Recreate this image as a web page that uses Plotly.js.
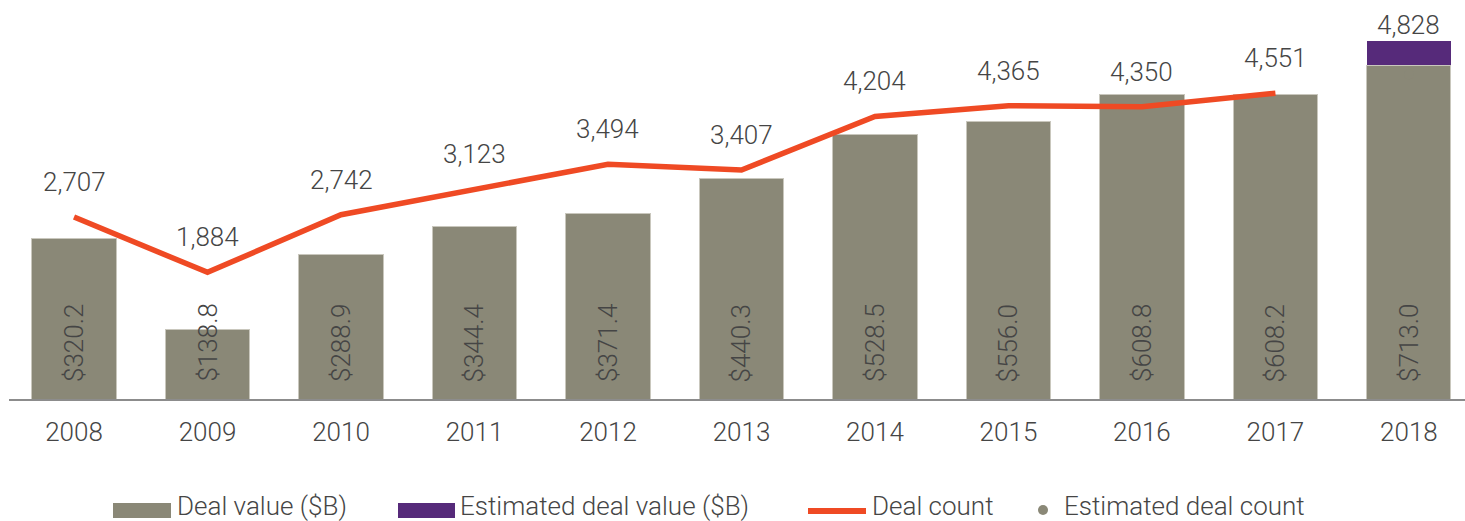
<!DOCTYPE html>
<html>
<head>
<meta charset="utf-8">
<script src="https://cdn.plot.ly/plotly-3.0.1.min.js"></script>
<style>html,body{margin:0;padding:0;background:#fff;}</style>
</head>
<body>
<div id="chart" style="width:1465px;height:521px;"></div>
<script>
// ---- Data ----
const years = ['2008','2009','2010','2011','2012','2013','2014','2015','2016','2017','2018'];
const dealValue = [320.2, 138.8, 288.9, 344.4, 371.4, 440.3, 528.5, 556.0, 608.8, 608.2, 668.0];
const estDealValue = [null, null, null, null, null, null, null, null, null, null, 48.0];
const valueLabels = ['$320.2','$138.8','$288.9','$344.4','$371.4','$440.3','$528.5','$556.0','$608.8','$608.2','$713.0'];
const countYears = ['2008','2009','2010','2011','2012','2013','2014','2015','2016','2017'];
const dealCount = [2707, 1884, 2742, 3123, 3494, 3407, 4204, 4365, 4350, 4551];
const estYears = ['2018'];
const estDealCount = [4828];

// ---- Styles ----
const GRAY = '#8a8877';
const PURPLE = '#562a7a';
const ORANGE = '#ef4a24';
const TXT = '#454545';
const FONT = 'Roboto, "Open Sans", Arial, sans-serif';

const traces = [
  {type:'bar', x:years, y:dealValue, name:'Deal value ($B)', marker:{color:GRAY, line:{color:'#c9c7bd', width:1}}, hoverinfo:'skip', showlegend:false},
  {type:'bar', x:years, y:estDealValue, name:'Estimated deal value ($B)', marker:{color:PURPLE}, hoverinfo:'skip', showlegend:false},
  {type:'scatter', mode:'lines', x:countYears, y:dealCount, yaxis:'y2', name:'Deal count', line:{color:ORANGE, width:5.5}, hoverinfo:'skip', showlegend:false},
  {type:'scatter', mode:'markers', x:estYears, y:estDealCount, yaxis:'y2', name:'Estimated deal count', marker:{color:GRAY, size:10}, hoverinfo:'skip', showlegend:false}
];

const catIndex = yr => years.indexOf(yr);
const lblFont = {family:FONT, size:26, color:TXT, weight:300};
const annotations = [];
// bar value labels (rotated, near base)
years.forEach((yr,i)=>{
  annotations.push({x:catIndex(yr), y:0, xref:'x', yref:'y', text:valueLabels[i], textangle:-90, showarrow:false,
    xanchor:'center', yanchor:'bottom', yshift:15, font:lblFont});
});
// deal count labels
countYears.forEach((yr,i)=>{
  annotations.push({x:catIndex(yr), y:dealCount[i], xref:'x', yref:'y2', text:dealCount[i].toLocaleString('en-US'), showarrow:false,
    xanchor:'center', yanchor:'middle', yshift:35, font:lblFont});
});
estYears.forEach((yr,i)=>{
  annotations.push({x:catIndex(yr), y:estDealCount[i], xref:'x', yref:'y2', text:estDealCount[i].toLocaleString('en-US'), showarrow:false,
    xanchor:'center', yanchor:'middle', yshift:50, font:lblFont});
});

// custom legend
const W = 1456, L = 9, H = 399;
const px = v => (v - L) / W;
const py = v => (H - v) / H;
const legFont = {family:FONT, size:26, color:TXT, weight:300};
const legendItems = [
  {text:'Deal value ($B)', x:176},
  {text:'Estimated deal value ($B)', x:459},
  {text:'Deal count', x:871},
  {text:'Estimated deal count', x:1063}
];
legendItems.forEach(it=>{
  annotations.push({xref:'paper', yref:'paper', x:px(it.x), y:py(506), text:it.text, showarrow:false,
    xanchor:'left', yanchor:'middle', borderpad:0, font:legFont});
});
const shapes = [
  {type:'rect', xref:'paper', yref:'paper', x0:px(113), x1:px(171), y0:py(518), y1:py(503), fillcolor:GRAY, line:{width:0}},
  {type:'rect', xref:'paper', yref:'paper', x0:px(398), x1:px(455), y0:py(518), y1:py(503), fillcolor:PURPLE, line:{width:0}},
  {type:'line', xref:'paper', yref:'paper', x0:px(808), x1:px(866), y0:py(511), y1:py(511), line:{color:ORANGE, width:6}},
  {type:'circle', xref:'paper', yref:'paper', x0:px(1038), x1:px(1048), y0:py(515), y1:py(505), fillcolor:GRAY, line:{width:0}}
];

const hiddenAxis = {showgrid:false, zeroline:false, showline:false, showticklabels:false, ticks:'', fixedrange:true};

const layout = {
  width:1465, height:521,
  margin:{l:9, r:0, t:0, b:122, pad:0},
  paper_bgcolor:'#ffffff', plot_bgcolor:'#ffffff',
  barmode:'stack', bargap:0.37,
  showlegend:false,
  font:{family:FONT, color:TXT},
  xaxis:{type:'category', range:[-0.487, 10.42], showgrid:false, zeroline:false, showline:true, linecolor:'#8c8c8c', linewidth:1.5,
    ticks:'', ticklabelstandoff:9, tickfont:{family:FONT, size:26, color:TXT, weight:300}, fixedrange:true},
  yaxis:Object.assign({range:[0, 798]}, hiddenAxis),
  yaxis2:Object.assign({range:[0, 5937], overlaying:'y', side:'right'}, hiddenAxis),
  annotations:annotations,
  shapes:shapes
};

Plotly.newPlot('chart', traces, layout, {displayModeBar:false, staticPlot:true});
</script>
</body>
</html>
